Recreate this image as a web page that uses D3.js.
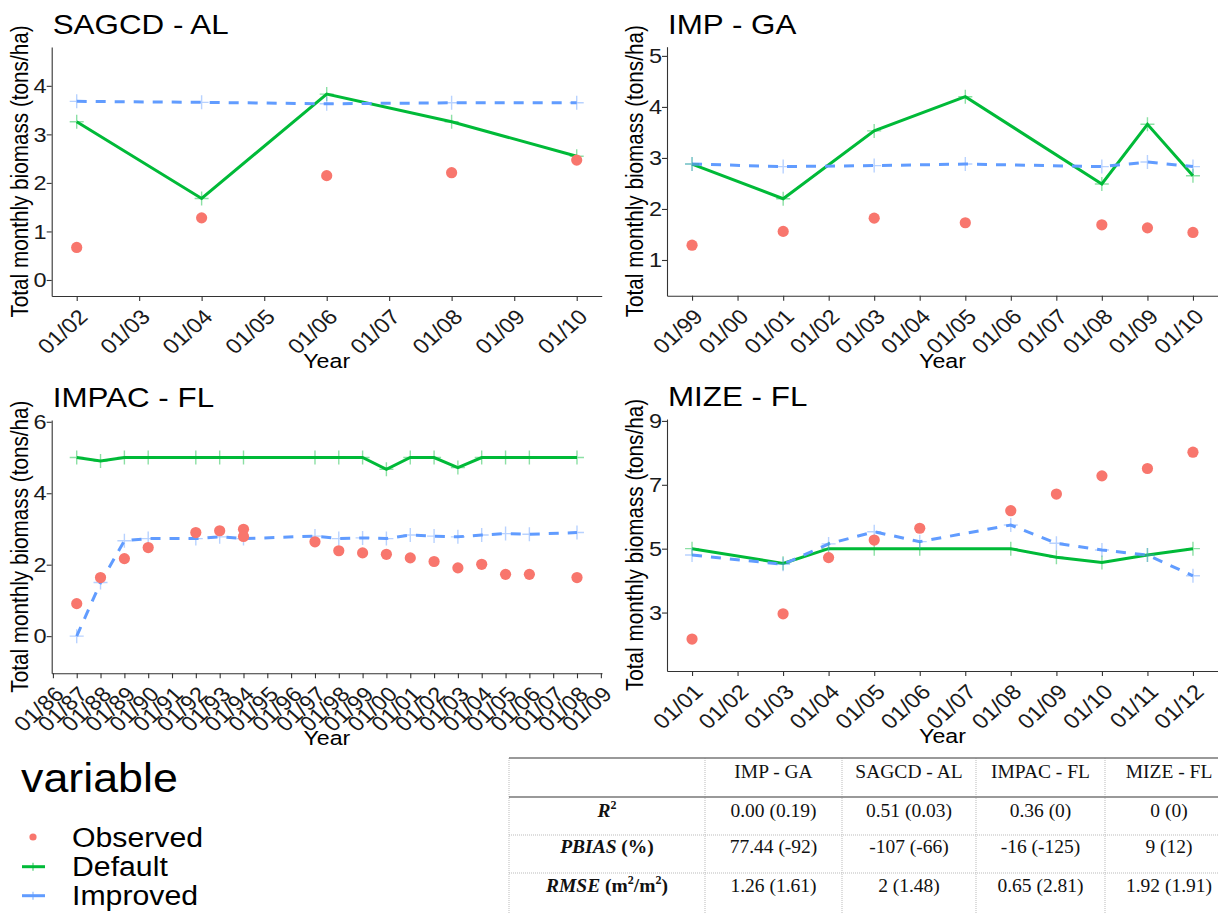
<!DOCTYPE html>
<html>
<head>
<meta charset="utf-8">
<script src="https://cdn.jsdelivr.net/npm/d3@7"></script>
<style>
	body { margin: 0; background: #fff; }
	svg { display: block; font-family: 'Liberation Sans', Arial, sans-serif; }
	.axis path, .axis line { stroke: #333; stroke-width: 1.1; }
	.axis text { fill: #1a1a1a; font-size: 21px; }
	.panel-title { font-size: 28px; fill: #000; }
	.axis-title { font-size: 20.7px; fill: #000; }
	.table-text { font-family: 'Liberation Serif', 'Times New Roman', serif; font-size: 19.5px; fill: #111; }
</style>
</head>
<body>
<svg id="chart" width="1218" height="914"></svg>
<script>
// SAGCD - AL
const sagcdYears = [2002, 2004, 2006, 2008, 2010];
const sagcdObserved = [0.67, 1.28, 2.15, 2.21, 2.47];
const sagcdDefault = [3.26, 1.68, 3.83, 3.26, 2.55];
const sagcdImproved = [3.68, 3.66, 3.63, 3.65, 3.65];
const sagcdTicks = [0, 1, 2, 3, 4];

// IMP - GA
const impYears = [1999, 2001, 2003, 2005, 2008, 2009, 2010];
const impObserved = [1.29, 1.56, 1.82, 1.73, 1.69, 1.63, 1.54];
const impDefault = [2.88, 2.20, 3.53, 4.20, 2.49, 3.66, 2.65];
const impImproved = [2.88, 2.83, 2.85, 2.88, 2.83, 2.92, 2.83];
const impTicks = [1, 2, 3, 4, 5];

// IMPAC - FL (two observations in 1994)
const impacYears = [1987, 1988, 1989, 1990, 1992, 1993, 1994, 1997, 1998, 1999, 2000, 2001, 2002, 2003, 2004, 2005, 2006, 2008];
const impacDefault = [5.0, 4.9, 5.0, 5.0, 5.0, 5.0, 5.0, 5.0, 5.0, 5.0, 4.67, 5.0, 5.0, 4.72, 5.0, 5.0, 5.0, 5.0];
const impacImproved = [0, 1.5, 2.67, 2.73, 2.73, 2.78, 2.73, 2.8, 2.73, 2.75, 2.73, 2.83, 2.8, 2.78, 2.83, 2.87, 2.85, 2.9];
const impacObsYears = [1987, 1988, 1989, 1990, 1992, 1993, 1994, 1994, 1997, 1998, 1999, 2000, 2001, 2002, 2003, 2004, 2005, 2006, 2008];
const impacObserved = [0.91, 1.64, 2.17, 2.48, 2.9, 2.95, 2.99, 2.79, 2.64, 2.39, 2.33, 2.29, 2.19, 2.09, 1.91, 2.01, 1.73, 1.73, 1.64];
const impacTicks = [0, 2, 4, 6];

// MIZE - FL
const mizeYears = [2001, 2003, 2004, 2005, 2006, 2008, 2009, 2010, 2011, 2012];
const mizeObserved = [2.17, 2.96, 4.72, 5.27, 5.64, 6.19, 6.71, 7.28, 7.51, 8.02];
const mizeDefault = [5.0, 4.54, 5.0, 5.0, 5.0, 5.0, 4.73, 4.57, 4.80, 5.0];
const mizeImproved = [4.80, 4.51, 5.15, 5.53, 5.22, 5.74, 5.17, 4.96, 4.80, 4.15];
const mizeTicks = [3, 5, 7, 9];

const legendLabels = ['Observed', 'Default', 'Improved'];

// statistics table
const tableHeader = ['IMP - GA', 'SAGCD - AL', 'IMPAC - FL', 'MIZE - FL'];
const tableR2 = ['0.00 (0.19)', '0.51 (0.03)', '0.36 (0)', '0 (0)'];
const tablePbias = ['77.44 (-92)', '-107 (-66)', '-16 (-125)', '9 (12)'];
const tableRmse = ['1.26 (1.61)', '2 (1.48)', '0.65 (2.81)', '1.92 (1.91)'];

const colors = { Observed: '#F8766D', Default: '#00BA38', Improved: '#619CFF' };
const SX = 1.12; // the figure is slightly wider than tall, text too

const svg = d3.select('#chart');
const toDate = year => new Date(year, 0, 1);
const stretch = (tx, ty, extra) => `translate(${tx},${ty}) scale(${SX},1)` + (extra ? ' ' + extra : '');
const cross = 'M-7,0H7M0,-7V7';

const panels = [
	{ title: 'SAGCD - AL', years: sagcdYears, obsYears: sagcdYears, observed: sagcdObserved,
		def: sagcdDefault, imp: sagcdImproved, yTicks: sagcdTicks, yDomain: [-0.33, 4.8],
		box: { left: 51.7, right: 601.7, top: 47, bottom: 296 } },
	{ title: 'IMP - GA', years: impYears, obsYears: impYears, observed: impObserved,
		def: impDefault, imp: impImproved, yTicks: impTicks, yDomain: [0.3, 5.18],
		box: { left: 667, right: 1218, top: 46.7, bottom: 295.7 } },
	{ title: 'IMPAC - FL', years: impacYears, obsYears: impacObsYears, observed: impacObserved,
		def: impacDefault, imp: impacImproved, yTicks: impacTicks, yDomain: [-1.04, 6.05],
		box: { left: 51.7, right: 602, top: 420, bottom: 673.3 } },
	{ title: 'MIZE - FL', years: mizeYears, obsYears: mizeYears, observed: mizeObserved,
		def: mizeDefault, imp: mizeImproved, yTicks: mizeTicks, yDomain: [1.17, 9.06],
		box: { left: 667, right: 1218, top: 419, bottom: 671 } }
];

function drawPanel(p) {
	const g = svg.append('g');
	const dates = p.years.map(toDate);
	const t0 = d3.min(dates), t1 = d3.max(dates);
	const pad = (t1 - t0) * 0.05;

	const x = d3.scaleTime()
		.domain([new Date(+t0 - pad), new Date(+t1 + pad)])
		.range([p.box.left, p.box.right]);
	const y = d3.scaleLinear()
		.domain(p.yDomain)
		.range([p.box.bottom, p.box.top]);

	const xAxis = g.append('g').attr('class', 'axis')
		.attr('transform', `translate(0,${p.box.bottom})`)
		.call(d3.axisBottom(x)
			.ticks(d3.timeYear.every(1))
			.tickFormat(d3.timeFormat('%m/%y'))
			.tickSize(5).tickSizeOuter(0));
	xAxis.attr('font-size', null).attr('font-family', null);
	xAxis.selectAll('.tick text')
		.attr('y', null).attr('dy', '0.35em')
		.attr('text-anchor', 'end')
		.attr('transform', stretch(6, 17, 'rotate(-45)'));

	const yAxis = g.append('g').attr('class', 'axis')
		.attr('transform', `translate(${p.box.left},0)`)
		.call(d3.axisLeft(y)
			.tickValues(p.yTicks)
			.tickFormat(d3.format('d'))
			.tickSize(5).tickSizeOuter(0));
	yAxis.attr('font-size', null).attr('font-family', null);
	yAxis.selectAll('.tick text')
		.attr('x', null)
		.attr('transform', stretch(-5, 0));

	g.append('text').attr('class', 'panel-title')
		.attr('transform', stretch(p.box.left + 1, p.box.top - 13))
		.text(p.title);

	g.append('text').attr('class', 'axis-title')
		.attr('text-anchor', 'middle').attr('dy', '0.3em')
		.attr('transform', stretch(p.box.left - 31, (p.box.top + p.box.bottom) / 2, 'rotate(-90)'))
		.text('Total monthly biomass (tons/ha)');

	g.append('text').attr('class', 'axis-title')
		.attr('text-anchor', 'middle')
		.attr('transform', stretch((p.box.left + p.box.right) / 2, p.box.bottom + 72))
		.text('Year');

	const line = d3.line()
		.x(d => x(d.date))
		.y(d => y(d.value));

	const def = p.years.map((yr, i) => ({ date: toDate(yr), value: p.def[i] }));
	const imp = p.years.map((yr, i) => ({ date: toDate(yr), value: p.imp[i] }));
	const obs = p.obsYears.map((yr, i) => ({ date: toDate(yr), value: p.observed[i] }));

	g.append('path')
		.attr('d', line(def))
		.attr('fill', 'none')
		.attr('stroke', colors.Default)
		.attr('stroke-width', 3);
	g.append('path')
		.attr('d', line(imp))
		.attr('fill', 'none')
		.attr('stroke', colors.Improved)
		.attr('stroke-width', 3)
		.attr('stroke-dasharray', '10,9');

	[[def, colors.Default], [imp, colors.Improved]].forEach(([series, color]) => {
		g.append('g').selectAll('path')
			.data(series)
			.join('path')
			.attr('d', cross)
			.attr('transform', d => `translate(${x(d.date)},${y(d.value)})`)
			.attr('stroke', color)
			.attr('stroke-width', 1.4)
			.attr('stroke-opacity', 0.45);
	});

	g.append('g').selectAll('circle')
		.data(obs)
		.join('circle')
		.attr('cx', d => x(d.date))
		.attr('cy', d => y(d.value))
		.attr('r', 5.6)
		.attr('fill', colors.Observed);
}

panels.forEach(drawPanel);

// legend
const legend = svg.append('g');
legend.append('text')
	.attr('transform', stretch(21, 792))
	.attr('font-size', 40)
	.text('variable');

const legendRows = legend.selectAll('g.key')
	.data(legendLabels)
	.join('g')
	.attr('class', 'key')
	.attr('transform', (d, i) => `translate(0,${[837, 866.7, 895.7][i]})`);

legendRows.filter(d => d === 'Observed').append('circle')
	.attr('cx', 33).attr('r', 3.6)
	.attr('fill', colors.Observed);
legendRows.filter(d => d !== 'Observed').append('line')
	.attr('x1', 22).attr('x2', 45)
	.attr('stroke', d => colors[d])
	.attr('stroke-width', 3);
legendRows.filter(d => d !== 'Observed').append('path')
	.attr('d', 'M33,-4V4')
	.attr('stroke', d => colors[d])
	.attr('stroke-width', 1.4)
	.attr('stroke-opacity', 0.6);
legendRows.append('text')
	.attr('transform', stretch(72, 9.5))
	.attr('font-size', 27)
	.text(d => d);

// table of fit statistics
const table = svg.append('g').attr('class', 'table-text');
const colEdges = [509, 705, 842, 976, 1105, 1233];
const rowLines = [758, 797, 835, 873];
const rowBase = [778, 816.7, 853, 891.7];
const colCenter = i => (colEdges[i] + colEdges[i + 1]) / 2;

table.selectAll('line.v')
	.data(colEdges.slice(0, 5))
	.join('line')
	.attr('x1', d => d).attr('x2', d => d)
	.attr('y1', 758).attr('y2', 914)
	.attr('stroke', '#bbb').attr('stroke-dasharray', '1,1');
table.selectAll('line.h')
	.data(rowLines)
	.join('line')
	.attr('x1', 509).attr('x2', 1218)
	.attr('y1', d => d).attr('y2', d => d)
	.attr('stroke', (d, i) => i < 2 ? '#777' : '#bbb')
	.attr('stroke-width', (d, i) => i < 2 ? 1.5 : 1)
	.attr('stroke-dasharray', (d, i) => i < 2 ? null : '1,1');

tableHeader.forEach((h, i) => {
	table.append('text')
		.attr('x', colCenter(i + 1)).attr('y', rowBase[0])
		.attr('text-anchor', 'middle')
		.text(h);
});

[tableR2, tablePbias, tableRmse].forEach((row, r) => {
	row.forEach((v, i) => {
		table.append('text')
			.attr('x', colCenter(i + 1)).attr('y', rowBase[r + 1])
			.attr('text-anchor', 'middle')
			.text(v);
	});
});

// row labels with bold italic names and superscripts
const r2 = table.append('text')
	.attr('x', colCenter(0)).attr('y', rowBase[1])
	.attr('text-anchor', 'middle').attr('font-weight', 'bold');
r2.append('tspan').attr('font-style', 'italic').text('R');
r2.append('tspan').attr('font-size', 12).attr('dy', -8).text('2');

const pb = table.append('text')
	.attr('x', colCenter(0)).attr('y', rowBase[2])
	.attr('text-anchor', 'middle').attr('font-weight', 'bold');
pb.append('tspan').attr('font-style', 'italic').text('PBIAS');
pb.append('tspan').text(' (%)');

const rm = table.append('text')
	.attr('x', colCenter(0)).attr('y', rowBase[3])
	.attr('text-anchor', 'middle').attr('font-weight', 'bold');
rm.append('tspan').attr('font-style', 'italic').text('RMSE');
rm.append('tspan').text(' (m');
rm.append('tspan').attr('font-size', 12).attr('dy', -8).text('2');
rm.append('tspan').attr('dy', 8).text('/m');
rm.append('tspan').attr('font-size', 12).attr('dy', -8).text('2');
rm.append('tspan').attr('dy', 8).text(')');
</script>
</body>
</html>
